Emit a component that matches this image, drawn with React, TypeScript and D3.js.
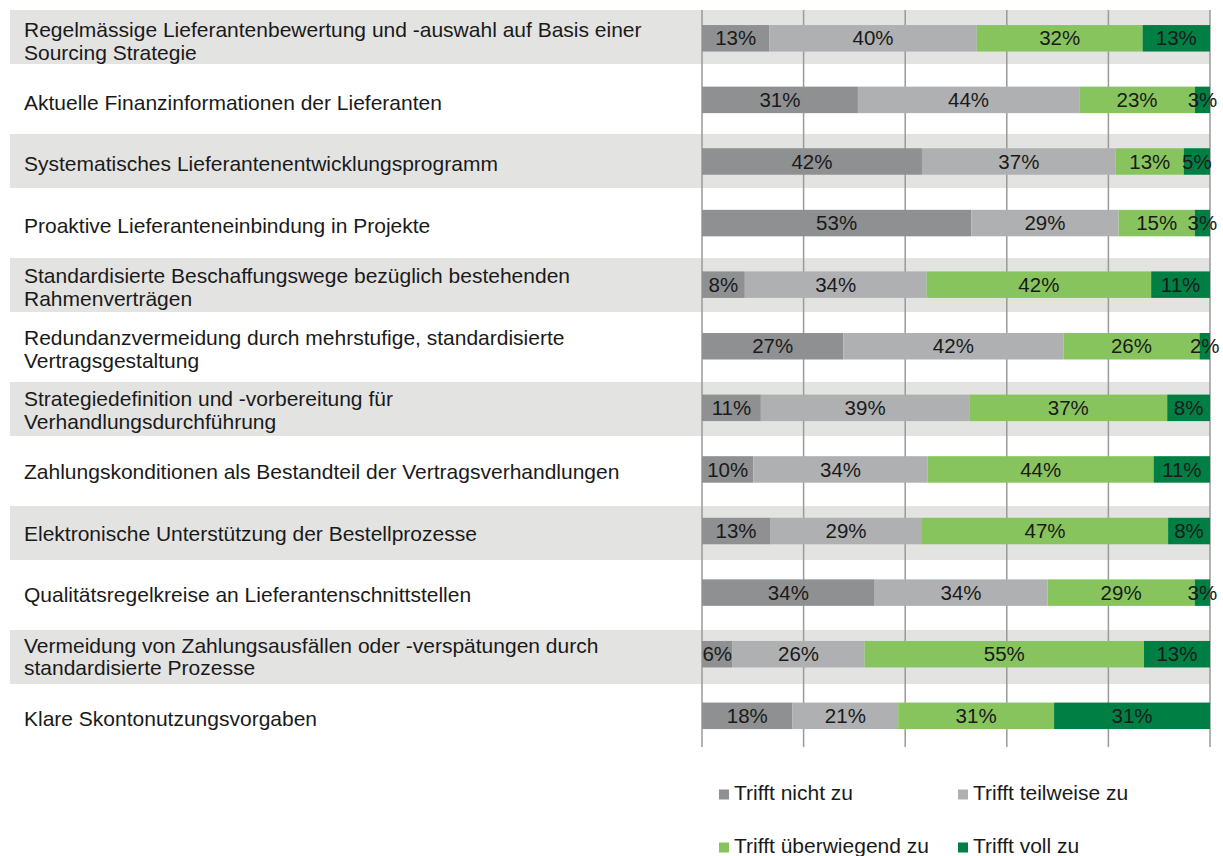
import React from "react";
import * as d3 from "d3";

const categoryLines: string[][] = [
  ["Regelmässige Lieferantenbewertung und -auswahl auf Basis einer", "Sourcing Strategie"],
  ["Aktuelle Finanzinformationen der Lieferanten"],
  ["Systematisches Lieferantenentwicklungsprogramm"],
  ["Proaktive Lieferanteneinbindung in Projekte"],
  ["Standardisierte Beschaffungswege bezüglich bestehenden", "Rahmenverträgen"],
  ["Redundanzvermeidung durch mehrstufige, standardisierte", "Vertragsgestaltung"],
  ["Strategiedefinition und -vorbereitung für", "Verhandlungsdurchführung"],
  ["Zahlungskonditionen als Bestandteil der Vertragsverhandlungen"],
  ["Elektronische Unterstützung der Bestellprozesse"],
  ["Qualitätsregelkreise an Lieferantenschnittstellen"],
  ["Vermeidung von Zahlungsausfällen oder -verspätungen durch", "standardisierte Prozesse"],
  ["Klare Skontonutzungsvorgaben"],
];

const seriesNames = ["Trifft nicht zu", "Trifft teilweise zu", "Trifft überwiegend zu", "Trifft voll zu"];
const nichtZu = [13, 31, 42, 53, 8, 27, 11, 10, 13, 34, 6, 18];
const teilweiseZu = [40, 44, 37, 29, 34, 42, 39, 34, 29, 34, 26, 21];
const ueberwiegendZu = [32, 23, 13, 15, 42, 26, 37, 44, 47, 29, 55, 31];
const vollZu = [13, 3, 5, 3, 11, 2, 8, 11, 8, 3, 13, 31];
const seriesColors = ["#8f9091", "#afb0b1", "#88c45e", "#007f45"];

const W = 1223;
const H = 856;
const FONT = "'Liberation Sans', Arial, Helvetica, sans-serif";

export default function App() {
  const rows = categoryLines.map((lines, i) => ({
    idx: String(i),
    lines,
    [seriesNames[0]]: nichtZu[i],
    [seriesNames[1]]: teilweiseZu[i],
    [seriesNames[2]]: ueberwiegendZu[i],
    [seriesNames[3]]: vollZu[i],
  })) as any[];

  const stacked = d3.stack<any>().keys(seriesNames).offset(d3.stackOffsetExpand)(rows);

  const x = d3.scaleLinear().domain([0, 1]).range([702, 1210]);
  const y = d3.scaleBand<string>().domain(rows.map((r) => r.idx)).range([7.5, 746.6]).padding(0);
  const yBand = d3.scaleBand<string>().domain(rows.map((r) => r.idx)).range([6, 750]).padding(0);
  const color = d3.scaleOrdinal<string, string>().domain(seriesNames).range(seriesColors);

  const barH = 26.5;
  const bandH = 54;
  const lineH = 22.8;
  const cy = (i: string) => (y(i) as number) + y.step() / 2;
  const by = (i: string) => (yBand(i) as number) + yBand.step() / 2;

  const legendItems = seriesNames.map((name, k) => ({
    name,
    x: k % 2 === 0 ? 719 : 958,
    base: k < 2 ? 800 : 853,
  }));

  return (
    <svg
      width={W}
      height={H}
      style={{ position: "absolute", left: 0, top: 0, background: "#fff" }}
      fontFamily={FONT}
    >
      {/* alternating bands */}
      {rows
        .filter((_, i) => i % 2 === 0)
        .map((r) => (
          <rect key={"band" + r.idx} x={10} y={by(r.idx) - bandH / 2} width={1200} height={bandH} fill="#e3e3e2" />
        ))}
      {/* gridlines */}
      {x.ticks(5).map((t) => (
        <line key={"g" + t} x1={x(t)} x2={x(t)} y1={10} y2={747} stroke="#9a9a9a" strokeWidth={1.5} />
      ))}
      {/* bars */}
      {stacked.map((s) => (
        <g key={s.key} fill={color(s.key)}>
          {s.map((d, i) => (
            <rect
              key={i}
              x={x(d[0])}
              y={cy(rows[i].idx) - barH / 2}
              width={x(d[1]) - x(d[0])}
              height={barH}
            />
          ))}
        </g>
      ))}
      {/* bar labels */}
      {stacked.map((s) => (
        <g key={"l" + s.key} fontSize={20.5} fill="#1a1a1a" textAnchor="middle">
          {s.map((d, i) => (
            <text key={i} x={(x(d[0]) + x(d[1])) / 2} y={cy(rows[i].idx)} dy="0.35em">
              {`${(d.data as any)[s.key]}%`}
            </text>
          ))}
        </g>
      ))}
      {/* category labels */}
      {rows.map((r) => {
        const c = cy(r.idx) + 2.5;
        const n = r.lines.length;
        return (
          <text key={"c" + r.idx} x={24} fontSize={21} fill="#1a1a1a">
            {r.lines.map((ln: string, k: number) => (
              <tspan key={k} x={24} y={c + (k - (n - 1) / 2) * lineH} dy="0.35em">
                {ln}
              </tspan>
            ))}
          </text>
        );
      })}
      {/* legend */}
      {legendItems.map((it) => (
        <g key={"lg" + it.name}>
          <rect x={it.x} y={it.base - 10.5} width={10} height={10} fill={color(it.name)} />
          <text x={it.x + 15} y={it.base} fontSize={21} fill="#1a1a1a">
            {it.name}
          </text>
        </g>
      ))}
    </svg>
  );
}
